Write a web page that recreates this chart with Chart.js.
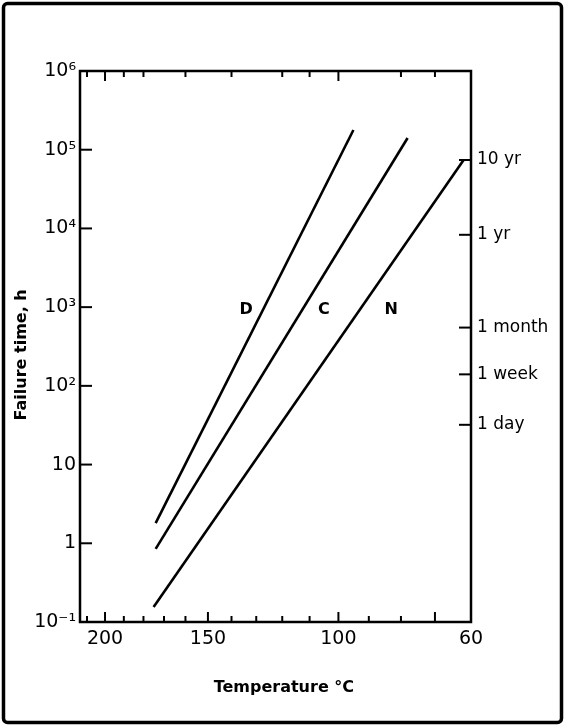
<!DOCTYPE html>
<html>
<head>
<meta charset="utf-8">
<script src="https://cdn.jsdelivr.net/npm/chart.js@4.4.1/dist/chart.umd.min.js"></script>
<style>
  html, body { margin: 0; padding: 0; background: #fff; }
  #wrap { width: 565px; height: 726px; }
</style>
</head>
<body>
<div id="wrap"><canvas id="failChart"></canvas></div>
<script>
// lines: end temperatures (degC) and failure times (h)
var lineNames = ['D', 'C', 'N'];
var tempStart = [174, 174, 175];
var tempEnd = [95, 78, 62];
var hoursStart = [1.8, 0.85, 0.155];
var hoursEnd = [178000, 141000, 74000];

// where the letters sit
var labelTemps = [134, 105, 83];
var labelHours = [920, 920, 920];

// axes
var tempTicks = [200, 150, 100, 60];
var bottomMinor = [210, 190, 180, 170, 160, 140, 130, 120, 110, 90, 80];
var bottomMajor = [200, 150, 100, 70];
var topMinor = [210, 190, 180, 160, 140, 120, 110, 80, 70];
var topMajor = [200, 100];
var yTickValues = [0.1, 1, 10, 100, 1000, 10000, 100000, 1000000];
var yTickLabels = ['10\u207B\u00B9', '1', '10', '10\u00B2', '10\u00B3', '10\u2074', '10\u2075', '10\u2076'];
var timeTickHours = [74000, 8300, 550, 140, 32];
var timeTickLabels = ['10 yr', '1 yr', '1 month', '1 week', '1 day'];

var FONT = '"DejaVu Sans", sans-serif';

// Arrhenius axis: position is linear in 1000/T(K)
function toU(t) { return 1000 / (t + 273.15); }

var datasets = lineNames.map(function (name, i) {
  return {
    label: name,
    data: [{x: toU(tempStart[i]), y: hoursStart[i]}, {x: toU(tempEnd[i]), y: hoursEnd[i]}],
    borderColor: '#000',
    borderWidth: 2.6,
    pointRadius: 0,
    fill: false
  };
});

function tick(ctx, x1, y1, x2, y2) {
  ctx.beginPath();
  ctx.moveTo(x1, y1);
  ctx.lineTo(x2, y2);
  ctx.stroke();
}

var decorations = {
  id: 'decorations',
  beforeDraw: function (chart) {
    var ctx = chart.ctx;
    ctx.save();
    ctx.fillStyle = '#fff';
    ctx.fillRect(0, 0, chart.width, chart.height);
    ctx.restore();
  },
  afterDraw: function (chart) {
    var ctx = chart.ctx, a = chart.chartArea;
    var xs = chart.scales.x, ys = chart.scales.y, y2 = chart.scales.y2;
    ctx.save();
    ctx.strokeStyle = '#000';
    ctx.lineWidth = 2.5;
    ctx.strokeRect(a.left, a.top, a.right - a.left, a.bottom - a.top);

    ctx.lineWidth = 2;
    bottomMinor.forEach(function (t) {
      var px = xs.getPixelForValue(toU(t));
      tick(ctx, px, a.bottom, px, a.bottom - 6);
    });
    bottomMajor.forEach(function (t) {
      var px = xs.getPixelForValue(toU(t));
      tick(ctx, px, a.bottom, px, a.bottom - 10);
    });
    topMinor.forEach(function (t) {
      var px = xs.getPixelForValue(toU(t));
      tick(ctx, px, a.top, px, a.top + 6);
    });
    topMajor.forEach(function (t) {
      var px = xs.getPixelForValue(toU(t));
      tick(ctx, px, a.top, px, a.top + 10);
    });
    yTickValues.slice(1, -1).forEach(function (v) {
      var py = ys.getPixelForValue(v);
      tick(ctx, a.left, py, a.left + 12, py);
    });
    timeTickHours.forEach(function (v) {
      var py = y2.getPixelForValue(v);
      tick(ctx, a.right, py, a.right - 12, py);
    });

    ctx.fillStyle = '#000';
    ctx.font = 'bold 16px ' + FONT;
    ctx.textAlign = 'center';
    ctx.textBaseline = 'middle';
    lineNames.forEach(function (n, i) {
      ctx.fillText(n, xs.getPixelForValue(toU(labelTemps[i])), ys.getPixelForValue(labelHours[i]));
    });

    // outer frame
    ctx.lineWidth = 3.5;
    ctx.beginPath();
    ctx.roundRect(3.5, 3.5, chart.width - 7, chart.height - 7, 4);
    ctx.stroke();
    ctx.restore();
  }
};

Chart.defaults.color = '#000';
Chart.defaults.font.family = FONT;

var ctxF = document.getElementById('failChart').getContext('2d');
var failChart = new Chart(ctxF, {
  type: 'line',
  data: { datasets: datasets },
  plugins: [decorations],
  options: {
    responsive: true,
    maintainAspectRatio: false,
    animation: false,
    layout: { padding: { top: 71, left: 0, right: 0, bottom: 0 } },
    plugins: { legend: { display: false }, tooltip: { enabled: false } },
    scales: {
      x: {
        type: 'linear',
        min: toU(214),
        max: toU(60),
        grid: { display: false, drawTicks: false },
        border: { display: false },
        afterBuildTicks: function (scale) {
          scale.ticks = tempTicks.map(function (t) { return {value: toU(t)}; });
        },
        afterFit: function (scale) { scale.height = 104; },
        ticks: {
          padding: 6,
          maxRotation: 0,
          autoSkip: false,
          font: { size: 19 },
          callback: function (v, i) { return String(tempTicks[i]); }
        },
        title: {
          display: true,
          // leading spaces nudge the title a little right, as in the original
          text: '   Temperature \u00B0C',
          font: { size: 16, weight: 'bold' },
          padding: { top: 4, bottom: 29 }
        }
      },
      y: {
        type: 'logarithmic',
        position: 'left',
        min: 0.1,
        max: 1000000,
        grid: { display: false, drawTicks: false },
        border: { display: false },
        afterBuildTicks: function (scale) {
          scale.ticks = yTickValues.map(function (v) { return {value: v}; });
        },
        afterFit: function (scale) { scale.width = 80; },
        ticks: {
          padding: 4,
          autoSkip: false,
          font: { size: 19 },
          callback: function (v, i) { return yTickLabels[i]; }
        },
        title: {
          display: true,
          // trailing spaces push the title down a little
          text: 'Failure time, h   ',
          font: { size: 16, weight: 'bold' },
          padding: { top: 12, bottom: 4 }
        }
      },
      y2: {
        type: 'logarithmic',
        position: 'right',
        display: true,
        min: 0.1,
        max: 1000000,
        grid: { display: false, drawTicks: false },
        border: { display: false },
        afterBuildTicks: function (scale) {
          scale.ticks = timeTickHours.map(function (v) { return {value: v}; });
        },
        afterFit: function (scale) { scale.width = 94; },
        ticks: {
          padding: 6,
          autoSkip: false,
          font: { size: 17 },
          callback: function (v, i) { return timeTickLabels[i]; }
        }
      }
    }
  }
});
</script>
</body>
</html>
